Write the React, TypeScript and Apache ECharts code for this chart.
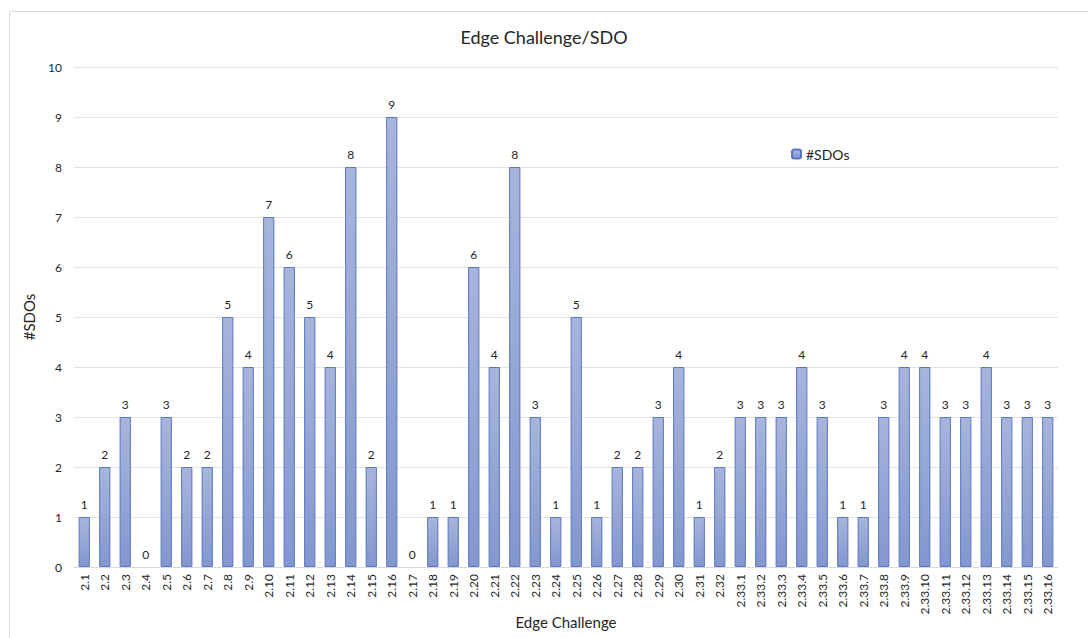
import React, { useEffect, useRef } from "react";
import * as echarts from "echarts";

const categories = [
  "2.1", "2.2", "2.3", "2.4", "2.5", "2.6", "2.7", "2.8", "2.9", "2.10",
  "2.11", "2.12", "2.13", "2.14", "2.15", "2.16", "2.17", "2.18", "2.19", "2.20",
  "2.21", "2.22", "2.23", "2.24", "2.25", "2.26", "2.27", "2.28", "2.29", "2.30",
  "2.31", "2.32", "2.33.1", "2.33.2", "2.33.3", "2.33.4", "2.33.5", "2.33.6", "2.33.7", "2.33.8",
  "2.33.9", "2.33.10", "2.33.11", "2.33.12", "2.33.13", "2.33.14", "2.33.15", "2.33.16",
];
const sdoValues = [
  1, 2, 3, 0, 3, 2, 2, 5, 4, 7,
  6, 5, 4, 8, 2, 9, 0, 1, 1, 6,
  4, 8, 3, 1, 5, 1, 2, 2, 3, 4,
  1, 2, 3, 3, 3, 4, 3, 1, 1, 3,
  4, 4, 3, 3, 4, 3, 3, 3,
];

const FONT = "Lato, 'Open Sans', sans-serif";

export default function App() {
  const ref = useRef<HTMLDivElement>(null);
  useEffect(() => {
    if (!ref.current) return;
    const chart = echarts.init(ref.current, null, { renderer: "svg" });
    chart.setOption({
      animation: false,
      backgroundColor: "#ffffff",
      textStyle: { fontFamily: FONT },
      title: {
        text: "Edge Challenge/SDO",
        left: "center",
        top: 23,
        textStyle: { fontFamily: FONT, fontSize: 18, fontWeight: "normal", color: "#262626" },
      },
      legend: {
        data: ["#SDOs"],
        left: 786,
        top: 142,
        itemWidth: 9,
        itemHeight: 9,
        itemGap: 4,
        textStyle: { fontFamily: FONT, fontSize: 14, color: "#262626" },
      },
      graphic: [
        {
          type: "rect",
          shape: { x: 9.5, y: 11.5, width: 1100, height: 700 },
          style: { fill: "none", stroke: "#d9d9d9", lineWidth: 1 },
          silent: true,
        },
      ],
      grid: { left: 74, right: 30, top: 67, bottom: 71, outerBoundsMode: "none", containLabel: false },
      xAxis: {
        type: "category",
        data: categories,
        name: "Edge Challenge",
        nameLocation: "middle",
        nameGap: 47,
        nameMoveOverlap: false,
        nameTextStyle: { fontFamily: FONT, fontSize: 15, color: "#262626" },
        axisLine: { lineStyle: { color: "#d9d9d9" } },
        axisTick: { show: false },
        axisLabel: {
          rotate: 90,
          interval: 0,
          margin: 7,
          fontFamily: FONT,
          fontSize: 12,
          color: "#262626",
        },
      },
      yAxis: {
        type: "value",
        min: 0,
        max: 10,
        interval: 1,
        name: "#SDOs",
        nameLocation: "middle",
        nameGap: 38,
        nameTextStyle: { fontFamily: FONT, fontSize: 15, color: "#262626" },
        axisLine: { show: false },
        axisTick: { show: false },
        axisLabel: { fontFamily: FONT, fontSize: 12, color: "#262626", margin: 12 },
        splitLine: { lineStyle: { color: "#e3e3e3" } },
      },
      series: [
        {
          name: "#SDOs",
          type: "bar",
          data: sdoValues.map((v) =>
            v === 0
              ? { value: v, itemStyle: { borderWidth: 0, color: "rgba(0,0,0,0)" } }
              : v
          ),
          barWidth: "55%",
          itemStyle: {
            color: new echarts.graphic.LinearGradient(0, 0, 0, 1, [
              { offset: 0, color: "#a7b5dc" },
              { offset: 1, color: "#8397cf" },
            ]),
            borderColor: "#5a76c0",
            borderWidth: 1,
          },
          label: {
            show: true,
            position: "top",
            distance: 7,
            fontFamily: FONT,
            fontSize: 12,
            color: "#262626",
          },
        },
      ],
    });
    return () => chart.dispose();
  }, []);
  return (
    <div
      ref={ref}
      style={{ position: "fixed", left: 0, top: 0, width: 1088, height: 638 }}
    />
  );
}
